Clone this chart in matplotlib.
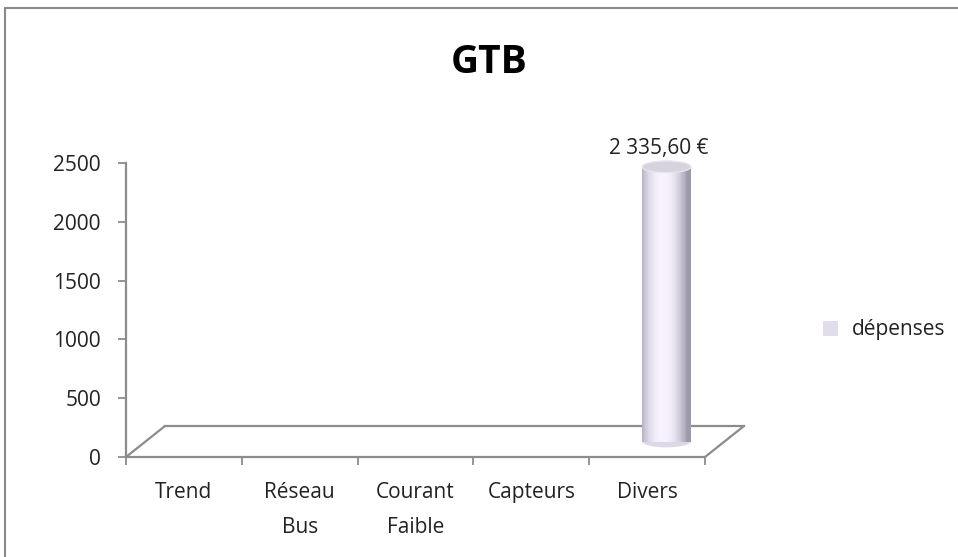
import numpy as np
import matplotlib
matplotlib.use("Agg")
import matplotlib.pyplot as plt
import matplotlib.transforms as mtransforms
from matplotlib.patches import Ellipse, Rectangle, Patch, ConnectionPatch

# data
categories = ["Trend", "Réseau\nBus", "Courant\nFaible", "Capteurs", "Divers"]
depenses = [0, 0, 0, 0, 2335.60]
series_name = "dépenses"
title = "GTB"

plt.rcParams['font.family'] = ['Open Sans', 'DejaVu Sans']

W, H = 958, 557
fig = plt.figure(figsize=(W / 100, H / 100), dpi=100)

# front plane of the plot (pixel box of the axes)
x0, x1, y0, y1 = 126, 705, 163, 457
ax = fig.add_axes([x0 / W, 1 - y1 / H, (x1 - x0) / W, (y1 - y0) / H])
ax.set_xlim(-0.5, len(categories) - 0.5)
ax.set_ylim(0, 2500)
ax.patch.set_alpha(0)

grey = "#8c8c8c"
fs = 15
for s in ["top", "right"]:
    ax.spines[s].set_visible(False)
for s in ["left", "bottom"]:
    ax.spines[s].set_color(grey)
    ax.spines[s].set_linewidth(1.6)

ax.set_yticks([0, 500, 1000, 1500, 2000, 2500])
ax.tick_params(axis="y", length=6, width=1.3, color=grey, labelsize=fs, labelcolor="#222222", pad=12)
ax.set_xticks(np.arange(len(categories) + 1) - 0.5)
ax.set_xticklabels([])
ax.tick_params(axis="x", length=6, width=1.3, color=grey)
ax.set_xticks(np.arange(len(categories)), minor=True)
ax.set_xticklabels(categories, minor=True, fontsize=fs, linespacing=1.85, color="#222222")
ax.tick_params(axis="x", which="minor", length=0, pad=18)

# 3d depth: back plane shift and mid plane shift (pixels)
dx, dy = 39, 31
back = ax.transData + mtransforms.ScaledTranslation(dx / 100, dy / 100, fig.dpi_scale_trans)
mid = ax.transData + mtransforms.ScaledTranslation(dx / 200, dy / 200, fig.dpi_scale_trans)

# floor
xl, xr = -0.5, len(categories) - 0.5
ax.plot([xl, xr], [0, 0], color=grey, lw=1.6, transform=back, clip_on=False)
for xe in (xl, xr):
    con = ConnectionPatch(xyA=(xe, 0), coordsA=ax.transData, xyB=(xe, 0), coordsB=back,
                          color=grey, lw=1.6)
    ax.add_artist(con)

# cylinders
cw = 0.42
ell_h = 100
n = 60
prof = np.linspace(-1, 1, n)
light = np.clip(1 - np.abs(prof + 0.15) ** 2.2, 0, 1)
base_dark = np.array([0.62, 0.60, 0.68])
base_light = np.array([0.97, 0.95, 0.995])
cols = [tuple(base_dark + (base_light - base_dark) * l) for l in light]
for i, v in enumerate(depenses):
    if v <= 0:
        continue
    xs = i + prof * cw / 2
    ax.add_patch(Ellipse((i, 0), cw, ell_h, facecolor=cols[n // 2 + 12], edgecolor="none",
                         transform=mid, clip_on=False, zorder=3))
    ax.bar(xs, [v] * n, width=cw / n * 1.05, color=cols, edgecolor="none",
           transform=mid, clip_on=False, zorder=3)
    ax.add_patch(Ellipse((i, v), cw, ell_h, facecolor="#d6d2de", edgecolor="#e8e5ee", lw=1,
                         transform=mid, clip_on=False, zorder=4))
    lab = f"{v:,.2f}".replace(",", " ").replace(".", ",") + " €"
    ax.annotate(lab, (i, v), xycoords=mid, xytext=(-6, 6), textcoords="offset points",
                ha="center", va="bottom", fontsize=fs, color="#222222", annotation_clip=False)

# title
fig.text(489 / W, 1 - 73 / H, title, ha="center", va="baseline", fontsize=28, fontweight="bold")

# legend
ax.legend(handles=[Patch(facecolor="#e1dded", edgecolor="none", label=series_name)],
          loc="center left", bbox_to_anchor=(804 / W, 1 - 330 / H), bbox_transform=fig.transFigure,
          frameon=False, fontsize=fs, handlelength=0.75, handleheight=0.75, handletextpad=0.65,
          labelcolor="#222222")

# outer chart border
fig.patches.append(Rectangle((5 / W, -0.05), 1.1, 1 - 8 / H + 0.05, transform=fig.transFigure,
                             fill=False, edgecolor="#8a8a8a", lw=1.5))

fig.savefig("out.png", dpi=100)
